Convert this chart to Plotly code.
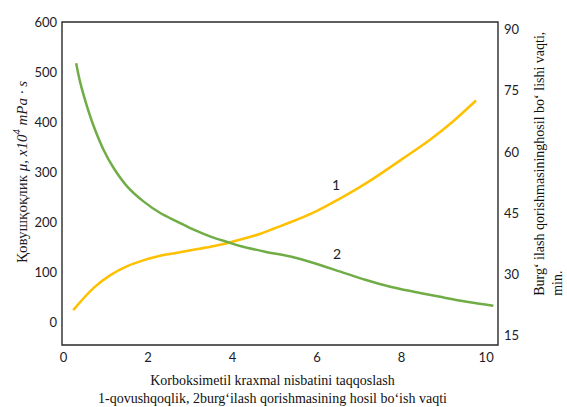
import plotly.graph_objects as go

# Curve 1: viscosity (left axis)
x1 = [0.23, 0.72, 1.11, 1.51, 1.90, 2.29, 2.69, 3.08, 3.48, 3.87, 4.26, 4.66, 5.0, 5.37, 6.0, 6.55, 7.0, 7.34, 8.0, 8.68, 9.2, 9.76]
y1 = [24, 69, 94, 112, 124, 133, 139, 145, 151, 158, 167, 177, 188, 200, 223, 248, 270, 288, 326, 366, 401, 444]

# Curve 2: formation time, min (right axis)
x2 = [0.30, 0.40, 0.56, 0.72, 0.95, 1.19, 1.51, 1.90, 2.29, 2.69, 3.08, 3.48, 3.87, 4.18,
      4.77, 5.37, 5.96, 6.55, 7.14, 7.73, 8.32, 8.91, 9.54, 10.17]
y2 = [81.8, 76.9, 71.1, 66.2, 60.5, 56.0, 51.5, 47.8, 45.0, 42.9, 40.9, 39.2, 37.9, 36.9,
      35.5, 34.3, 32.6, 30.6, 28.6, 26.9, 25.6, 24.4, 23.2, 22.2]

x_ticks = [0, 2, 4, 6, 8, 10]
left_ticks = [0, 100, 200, 300, 400, 500, 600]
right_ticks = [15, 30, 45, 60, 75, 90]

curve_labels = ["1", "2"]
label_x = [6.45, 6.48]
label_y = [276, 138]

YELLOW = "#FFC000"
GREEN = "#70AD47"
LINE = "#2a2a2a"
TICKFONT = dict(family="Lato, Liberation Sans, sans-serif", size=13, color="#1c1c28")
SERIF = "Liberation Serif, Times New Roman, serif"

fig = go.Figure()
fig.add_trace(go.Scatter(x=x1, y=y1, mode="lines", line=dict(color=YELLOW, width=2.5, shape="spline", smoothing=1.0),
                         yaxis="y", showlegend=False, hoverinfo="skip"))
fig.add_trace(go.Scatter(x=x2, y=y2, mode="lines", line=dict(color=GREEN, width=2.5, shape="spline", smoothing=1.0),
                         yaxis="y2", showlegend=False, hoverinfo="skip"))

for t, lx, ly in zip(curve_labels, label_x, label_y):
    fig.add_annotation(x=lx, y=ly, xref="x", yref="y", text=t, showarrow=False,
                       font=dict(family="Lato, Liberation Sans, sans-serif", size=14, color="#1c1c28"))

# frame around the plot area
fig.add_shape(type="rect", xref="paper", yref="paper", x0=0, y0=0, x1=1, y1=1,
              line=dict(color=LINE, width=1.4), fillcolor="rgba(0,0,0,0)", layer="above")

# axis titles as annotations for precise placement
fig.add_annotation(x=-0.096, y=0.536, xref="paper", yref="paper", textangle=-90, showarrow=False,
                   text="Қовушқоқлик <i>μ, x10<sup>4</sup> mPa · s</i>",
                   font=dict(family=SERIF, size=15, color="#1c1c28"), xanchor="center", yanchor="middle")
fig.add_annotation(x=1.114, y=0.56, xref="paper", yref="paper", textangle=-90, showarrow=False, align="left",
                   text="Burg‘ ilash qorishmasininghosil bo‘ lishi vaqti,<br>min.",
                   font=dict(family=SERIF, size=14, color="#111111"), xanchor="center", yanchor="middle")
fig.add_annotation(x=0.482, y=-0.139, xref="paper", yref="paper", showarrow=False, align="center",
                   text="Korboksimetil kraxmal nisbatini taqqoslash<br>1-qovushqoqlik, 2burg‘ilash qorishmasining hosil bo‘ish vaqti",
                   font=dict(family=SERIF, size=14, color="#111111"), xanchor="center", yanchor="middle")

fig.update_layout(
    width=567, height=407,
    margin=dict(l=62, r=69, t=22, b=62),
    paper_bgcolor="white", plot_bgcolor="white",
    xaxis=dict(range=[-0.035, 10.28], tickvals=x_ticks, showgrid=False, zeroline=False,
               showline=False, ticks="", tickfont=TICKFONT, ticklabelstandoff=3),
    yaxis=dict(range=[-46, 601.4], tickvals=left_ticks, showgrid=False, zeroline=False,
               showline=False, ticks="", tickfont=TICKFONT, ticklabelstandoff=4),
    yaxis2=dict(range=[12.57, 91.93], tickvals=right_ticks, overlaying="y", side="right",
                showgrid=False, zeroline=False, showline=False,
                ticks="", tickfont=TICKFONT, ticklabelstandoff=5),
)

fig.write_html("out.html", config={"displayModeBar": False},
               post_script="document.body.style.margin='0';document.body.style.padding='0';")
